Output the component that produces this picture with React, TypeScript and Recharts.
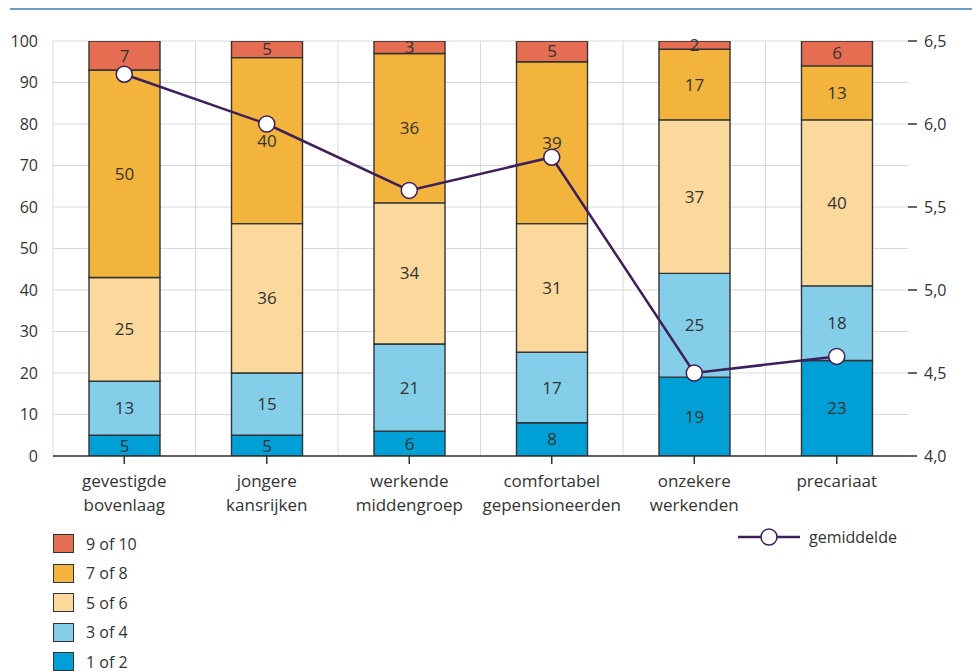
import React from "react";
import {
  ComposedChart,
  Bar,
  Line,
  XAxis,
  YAxis,
  CartesianGrid,
  LabelList,
} from "recharts";

const categories = [
  "gevestigde bovenlaag",
  "jongere kansrijken",
  "werkende middengroep",
  "comfortabel gepensioneerden",
  "onzekere werkenden",
  "precariaat",
];
const score1of2 = [5, 5, 6, 8, 19, 23];
const score3of4 = [13, 15, 21, 17, 25, 18];
const score5of6 = [25, 36, 34, 31, 37, 40];
const score7of8 = [50, 40, 36, 39, 17, 13];
const score9of10 = [7, 5, 3, 5, 2, 6];
const gemiddelde = [6.3, 6.0, 5.6, 5.8, 4.5, 4.6];
const leftTicks = [0, 10, 20, 30, 40, 50, 60, 70, 80, 90, 100];
const rightTicks = [4, 4.5, 5, 5.5, 6, 6.5];

const series = [
  { key: "s1", name: "1 of 2", color: "#00A0D7", values: score1of2 },
  { key: "s3", name: "3 of 4", color: "#85CEE9", values: score3of4 },
  { key: "s5", name: "5 of 6", color: "#FBD99D", values: score5of6 },
  { key: "s7", name: "7 of 8", color: "#F2B43C", values: score7of8 },
  { key: "s9", name: "9 of 10", color: "#E46D52", values: score9of10 },
];

const data = categories.map((c, i) => {
  const row: any = { name: c, gem: gemiddelde[i] };
  series.forEach((s) => {
    row[s.key] = s.values[i];
  });
  return row;
});

const FONT = "'Open Sans', 'DejaVu Sans', sans-serif";
const TEXT = "#333333";
const LINE = "#3D1F5C";

const CategoryTick = (props: any) => {
  const { x, y, payload } = props;
  const lines = String(payload.value).split(" ");
  return (
    <text
      x={x}
      y={y}
      textAnchor="middle"
      fill={TEXT}
      fontSize={17}
      fontFamily={FONT}
    >
      {lines.map((l, i) => (
        <tspan key={i} x={x} dy={i === 0 ? 21 : 24}>
          {l}
        </tspan>
      ))}
    </text>
  );
};

const fmt = (v: number) => v.toFixed(1).replace(".", ",");

export default function App() {
  const legendItems = [...series].reverse();
  return (
    <div
      style={{
        position: "absolute",
        left: 0,
        top: 0,
        width: 972,
        height: 671,
        background: "#fff",
        fontFamily: FONT,
      }}
    >
      <div
        style={{
          position: "absolute",
          left: 10,
          top: 8,
          width: 962,
          height: 2,
          background: "#6C9CC4",
        }}
      />
      <ComposedChart
        width={972}
        height={671}
        data={data}
        margin={{ top: 41, right: 0, bottom: 155, left: 0 }}
      >
        <CartesianGrid
          yAxisId="left"
          stroke="#d9d9d9"
          strokeWidth={1}
          verticalCoordinatesGenerator={({ offset }: any) =>
            categories.map((_, i) => offset.left + (i * offset.width) / categories.length)
          }
        />
        <XAxis
          dataKey="name"
          height={60}
          interval={0}
          axisLine={{ stroke: TEXT, strokeWidth: 1.5 }}
          tickLine={{ stroke: TEXT, strokeWidth: 1.5 }}
          tickSize={8}
          tick={<CategoryTick />}
        />
        <YAxis
          yAxisId="left"
          width={53}
          domain={[0, 100]}
          ticks={leftTicks}
          allowDataOverflow
          axisLine={false}
          tickLine={false}
          tickMargin={9}
          tick={{ fill: TEXT, fontSize: 16, fontFamily: FONT }}
        />
        <YAxis
          yAxisId="right"
          orientation="right"
          width={64}
          domain={[4, 6.5]}
          ticks={rightTicks}
          axisLine={false}
          tickLine={{ stroke: TEXT, strokeWidth: 1.5 }}
          tickSize={9}
          tickMargin={7}
          tickFormatter={fmt}
          tick={{ fill: TEXT, fontSize: 16, fontFamily: FONT }}
        />
        {series.map((s) => (
          <Bar
            key={s.key}
            yAxisId="left"
            dataKey={s.key}
            name={s.name}
            stackId="a"
            fill={s.color}
            stroke="#333"
            strokeWidth={1.4}
            barSize={71}
            isAnimationActive={false}
          >
            <LabelList
              dataKey={s.key}
              position="center"
              fill={TEXT}
              fontSize={17}
              fontFamily={FONT}
            />
          </Bar>
        ))}
        <Line
          yAxisId="right"
          dataKey="gem"
          name="gemiddelde"
          stroke={LINE}
          strokeWidth={2.5}
          dot={{ r: 8, fill: "#fff", stroke: LINE, strokeWidth: 1.5 }}
          isAnimationActive={false}
        />
      </ComposedChart>
      {legendItems.map((s, i) => (
        <div
          key={s.key}
          style={{
            position: "absolute",
            left: 53,
            top: 533 + i * 29.5,
            height: 21,
            display: "flex",
            alignItems: "center",
            fontSize: 16,
            color: TEXT,
          }}
        >
          <div
            style={{
              width: 19,
              height: 17,
              background: s.color,
              border: "1.2px solid #333",
              marginRight: 12,
            }}
          />
          <span>{s.name}</span>
        </div>
      ))}
      <div
        style={{
          position: "absolute",
          left: 738,
          top: 526,
          height: 22,
          display: "flex",
          alignItems: "center",
          fontSize: 16,
          color: TEXT,
        }}
      >
        <svg width={62} height={22}>
          <line x1={0} y1={11} x2={62} y2={11} stroke={LINE} strokeWidth={2.5} />
          <circle cx={31} cy={11} r={8} fill="#fff" stroke={LINE} strokeWidth={1.5} />
        </svg>
        <span style={{ marginLeft: 9 }}>gemiddelde</span>
      </div>
    </div>
  );
}
